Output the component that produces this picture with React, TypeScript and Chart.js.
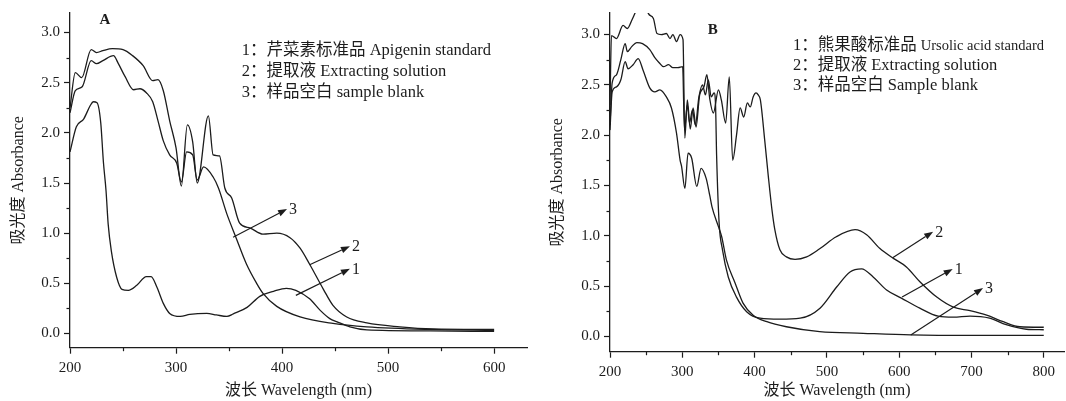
import React, { useEffect, useRef } from 'react';
import { Chart, registerables } from 'chart.js';
Chart.register(...registerables);

// ---------------- Panel A data ----------------
const aWl1 = [200,206,213,219,222,225.5,229,231.5,234,236,239,244,249,255,263,272,276.5,282,288,294,304,313,329,338,348,354,367,379,392,404,413,426,436,445,452,464,480,540,600];
const aAbs1 = [1.81,2.06,2.14,2.27,2.31,2.30,2.10,1.71,1.42,1.09,0.82,0.56,0.44,0.43,0.48,0.566,0.566,0.46,0.30,0.20,0.17,0.19,0.20,0.185,0.17,0.195,0.26,0.37,0.42,0.45,0.43,0.345,0.23,0.148,0.115,0.066,0.035,0.025,0.02];
const aWl2 = [200,205,211,220,225,231,240,250,259,269,278,283,288,294,300,305,310.7,315.7,320,330.5,335,341,346,352.5,360,370,382,395,407.5,417,426,439,448,461,480,511,542,600];
const aAbs2 = [2.25,2.60,2.55,2.83,2.80,2.82,2.84,2.83,2.77,2.67,2.52,2.53,2.42,2.12,1.85,1.47,2.08,1.91,1.50,2.17,1.78,1.77,1.45,1.35,1.10,1.05,0.99,1.00,0.955,0.85,0.69,0.44,0.28,0.164,0.105,0.066,0.045,0.04];
const aWl3 = [200,205,211.5,220,225,231,241,245.6,252,260,266,272,278,283,288,294,300.6,305,310,315.7,320,326,335,340,348,356.6,366.5,376,382,395,417,448,480,540,600];
const aAbs3 = [2.2,2.42,2.46,2.72,2.69,2.72,2.77,2.69,2.56,2.43,2.44,2.40,2.31,2.12,1.92,1.78,1.70,1.51,1.81,1.78,1.53,1.66,1.56,1.45,1.19,0.955,0.69,0.50,0.40,0.27,0.165,0.10,0.066,0.04,0.03];

// ---------------- Panel B data ----------------
const bWl1 = [200,203,209,215,221,224,230,237,245,255,262,268,274,281,287,294,300.5,303,307,310,314,318,323,328,332,336,340,344,346,347.5,351,355.6,363.6,375,389,407.5,435,463,490.5,513.5,532,548,564,582.6,603,628.5,654,675,698,725,748,776,800];
const bAbs1 = [2.1,2.52,2.60,2.75,2.91,2.83,2.88,2.92,2.91,2.85,2.77,2.72,2.68,2.70,2.67,2.67,2.68,2.05,2.30,2.12,2.25,2.10,2.38,2.50,2.40,2.55,2.38,2.42,2.30,1.79,1.12,0.86,0.59,0.39,0.245,0.18,0.17,0.18,0.28,0.49,0.64,0.67,0.59,0.46,0.38,0.28,0.20,0.19,0.20,0.18,0.115,0.07,0.065];
const bWl2 = [200,202,209,218,224,230,235,242,250,253,260,265,271,278,283,287,292,297,301,303.5,307,311,315,319,324,330,334,338,343,350,354,360,365,369.7,375,380,385,390,394,398,402,405,408,414,419,424,428,435,444,456,472,490,513,539,555,573,592,610,629,652,675,698,721,744,767,800];
const bAbs2 = [2.3,2.99,2.96,3.09,3.06,3.14,3.22,3.35,3.30,3.21,3.16,3.01,3.00,3.01,2.96,3.00,2.93,3.00,2.95,1.97,2.35,2.06,2.27,2.08,2.40,2.48,2.60,2.36,2.22,2.45,2.35,2.12,2.58,1.75,2.00,2.27,2.18,2.32,2.28,2.38,2.42,2.40,2.35,1.95,1.59,1.26,1.06,0.86,0.79,0.765,0.79,0.87,0.99,1.06,1.01,0.875,0.775,0.69,0.54,0.39,0.29,0.255,0.21,0.145,0.095,0.09];
const bWl3 = [200,203,209,215,221,225,232,239,246,255,262,269,278,285,292,297,299,303.6,308,313,320,326,333,338,341,350,354.5,361,373,384,398,417,444,490,550,616,700,800];
const bAbs3 = [2.05,2.43,2.48,2.55,2.73,2.66,2.70,2.76,2.64,2.47,2.43,2.45,2.38,2.27,2.02,1.75,1.69,1.47,1.82,1.77,1.49,1.67,1.57,1.40,1.29,1.09,0.99,0.76,0.53,0.33,0.21,0.145,0.095,0.046,0.03,0.015,0.01,0.01];

// ---------------- ticks ----------------
const yTicks = [0, 0.5, 1.0, 1.5, 2.0, 2.5, 3.0];
const yMinor = [0.25, 0.75, 1.25, 1.75, 2.25, 2.75];
const xTicksA = [200, 300, 400, 500, 600];
const xMinorA = [250, 350, 450, 550];
const xTicksB = [200, 300, 400, 500, 600, 700, 800];
const xMinorB = [250, 350, 450, 550, 650, 750];

// ---------------- text ----------------
const yTitle = '吸光度 Absorbance';
const xTitle = '波长 Wavelength (nm)';
const legendA = [['1：芹菜素标准品 Apigenin standard'], ['2：提取液 Extracting solution'], ['3：样品空白 sample blank']];
const legendB = [['1：熊果酸标准品 ', 'Ursolic acid standard'], ['2：提取液 Extracting solution'], ['3：样品空白 Sample blank']];

// annotations in data units [wavelength, absorbance]
const arrowsA = [
  { from: [413, 0.38], to: [464, 0.645], label: '1' },
  { from: [426, 0.685], to: [464, 0.87], label: '2' },
  { from: [353.8, 0.96], to: [404.7, 1.24], label: '3' },
];
const arrowsB = [
  { from: [591, 0.78], to: [647, 1.04], label: '2' },
  { from: [604, 0.39], to: [674, 0.67], label: '1' },
  { from: [616, 0.013], to: [716, 0.48], label: '3' },
];

const INK = '#1c1c1c';
const FAMILY = '"Liberation Serif", "Noto Sans CJK SC", serif';

function makeConfig(p: any) {
  const series = p.series.map((s: any) => ({
    data: s.wl.map((w: number, i: number) => ({ x: w, y: s.abs[i] })),
    borderColor: INK,
    borderWidth: 1.3,
    pointRadius: 0,
    fill: false,
    cubicInterpolationMode: 'monotone',
  }));

  const annoPlugin = {
    id: 'anno' + p.name,
    afterDraw(chart: any) {
      const { ctx, chartArea } = chart;
      const x = chart.scales.x, y = chart.scales.y;
      ctx.save();
      ctx.strokeStyle = INK;
      ctx.fillStyle = INK;
      ctx.lineWidth = 1.2;
      // minor ticks
      for (const v of p.xMinor) {
        const px = Math.round(x.getPixelForValue(v)) + 0.5;
        ctx.beginPath(); ctx.moveTo(px, chartArea.bottom); ctx.lineTo(px, chartArea.bottom + 3.5); ctx.stroke();
      }
      for (const v of p.yMinor) {
        const py = Math.round(y.getPixelForValue(v)) + 0.5;
        ctx.beginPath(); ctx.moveTo(chartArea.left - 3.5, py); ctx.lineTo(chartArea.left, py); ctx.stroke();
      }
      // arrows
      for (const a of p.arrows) {
        const x1 = x.getPixelForValue(a.from[0]), y1 = y.getPixelForValue(a.from[1]);
        const x2 = x.getPixelForValue(a.to[0]), y2 = y.getPixelForValue(a.to[1]);
        const ang = Math.atan2(y2 - y1, x2 - x1);
        const L = 9, W = 3.3;
        const bx = x2 - L * Math.cos(ang), by = y2 - L * Math.sin(ang);
        ctx.beginPath(); ctx.moveTo(x1, y1); ctx.lineTo(bx, by); ctx.stroke();
        ctx.beginPath();
        ctx.moveTo(x2, y2);
        ctx.lineTo(bx + W * Math.sin(ang), by - W * Math.cos(ang));
        ctx.lineTo(bx - W * Math.sin(ang), by + W * Math.cos(ang));
        ctx.closePath(); ctx.fill();
        ctx.font = `16px ${FAMILY}`;
        ctx.textAlign = 'left';
        ctx.textBaseline = 'middle';
        ctx.fillText(a.label, x2 + 2, y2 + 1);
      }
      // panel letter
      ctx.font = `bold 15px ${FAMILY}`;
      ctx.textAlign = 'center';
      ctx.textBaseline = 'middle';
      ctx.fillText(p.letter, x.getPixelForValue(p.letterPos[0]), y.getPixelForValue(p.letterPos[1]));
      // legend text
      ctx.textAlign = 'left';
      p.legend.forEach((segs: string[], i: number) => {
        let lx = x.getPixelForValue(p.legendX);
        const ly = y.getPixelForValue(p.legendY[i]);
        segs.forEach((t: string, j: number) => {
          const size = j === 0 ? 16.5 : 14.5;
          ctx.font = `${size}px ${FAMILY}`;
          ctx.fillText(t, lx, ly);
          lx += ctx.measureText(t).width;
        });
      });
      ctx.restore();
    },
  };

  const tickFont = { family: FAMILY, size: 15 };
  const titleFont = { family: FAMILY, size: 16 };

  return {
    type: 'line',
    data: { datasets: series },
    plugins: [annoPlugin],
    options: {
      responsive: false,
      animation: false,
      events: [],
      layout: { padding: { left: 0, right: p.padRight, top: p.padTop, bottom: 0 } },
      plugins: { legend: { display: false }, tooltip: { enabled: false } },
      scales: {
        x: {
          type: 'linear',
          min: 200,
          max: p.xMax,
          afterBuildTicks: (s: any) => { s.ticks = p.xTicks.map((v: number) => ({ value: v })); },
          afterFit: (s: any) => { s.height = p.xAxisHeight; },
          ticks: { font: tickFont, color: INK, padding: 5, maxRotation: 0, callback: (v: any) => String(v) },
          grid: { drawOnChartArea: false, drawTicks: true, tickLength: 6, tickColor: INK, tickWidth: 1.2 },
          border: { display: true, color: INK, width: 1.3 },
          title: { display: true, text: xTitle, font: titleFont, color: INK, padding: { top: 0, bottom: 1 } },
        },
        y: {
          type: 'linear',
          min: p.yMin,
          max: p.yMax,
          afterBuildTicks: (s: any) => { s.ticks = yTicks.map((v) => ({ value: v })); },
          afterFit: (s: any) => { s.width = 70; },
          ticks: { font: tickFont, color: INK, padding: 4, callback: (v: any) => Number(v).toFixed(1) },
          grid: { drawOnChartArea: false, drawTicks: true, tickLength: 6, tickColor: INK, tickWidth: 1.2 },
          border: { display: true, color: INK, width: 1.3 },
          title: { display: true, text: yTitle, font: titleFont, color: INK, padding: { top: p.yTitlePad, bottom: 0 } },
        },
      },
    },
  };
}

const panelA = {
  name: 'A',
  series: [
    { wl: aWl1, abs: aAbs1 },
    { wl: aWl2, abs: aAbs2 },
    { wl: aWl3, abs: aAbs3 },
  ],
  xMax: 631, yMin: -0.142, yMax: 3.195,
  xTicks: xTicksA, xMinor: xMinorA, yMinor,
  padRight: 13, padTop: 10, xAxisHeight: 53.3, yTitlePad: 9,
  arrows: arrowsA,
  letter: 'A', letterPos: [233, 3.12],
  legend: legendA, legendX: 362, legendY: [2.82, 2.61, 2.40],
};

const panelB = {
  name: 'B',
  series: [
    { wl: bWl1, abs: bAbs1 },
    { wl: bWl2, abs: bAbs2 },
    { wl: bWl3, abs: bAbs3 },
  ],
  xMax: 828, yMin: -0.153, yMax: 3.214,
  xTicks: xTicksB, xMinor: xMinorB, yMinor,
  padRight: 2, padTop: 13, xAxisHeight: 49.3, yTitlePad: 8,
  arrows: arrowsB,
  letter: 'B', letterPos: [342, 3.045],
  legend: legendB, legendX: 453, legendY: [2.886, 2.687, 2.488],
};

export default function App() {
  const refA = useRef<HTMLCanvasElement>(null);
  const refB = useRef<HTMLCanvasElement>(null);
  useEffect(() => {
    document.body.style.margin = '0';
    const ca = new Chart(refA.current as HTMLCanvasElement, makeConfig(panelA) as any);
    const cb = new Chart(refB.current as HTMLCanvasElement, makeConfig(panelB) as any);
    return () => { ca.destroy(); cb.destroy(); };
  }, []);
  return (
    <div style={{ position: 'absolute', left: 0, top: 0, width: 1066, height: 401, background: '#fff' }}>
      <canvas ref={refA} width={540} height={401} style={{ position: 'absolute', left: 0, top: 0, width: 540, height: 401 }} />
      <canvas ref={refB} width={526} height={401} style={{ position: 'absolute', left: 540, top: 0, width: 526, height: 401 }} />
    </div>
  );
}
